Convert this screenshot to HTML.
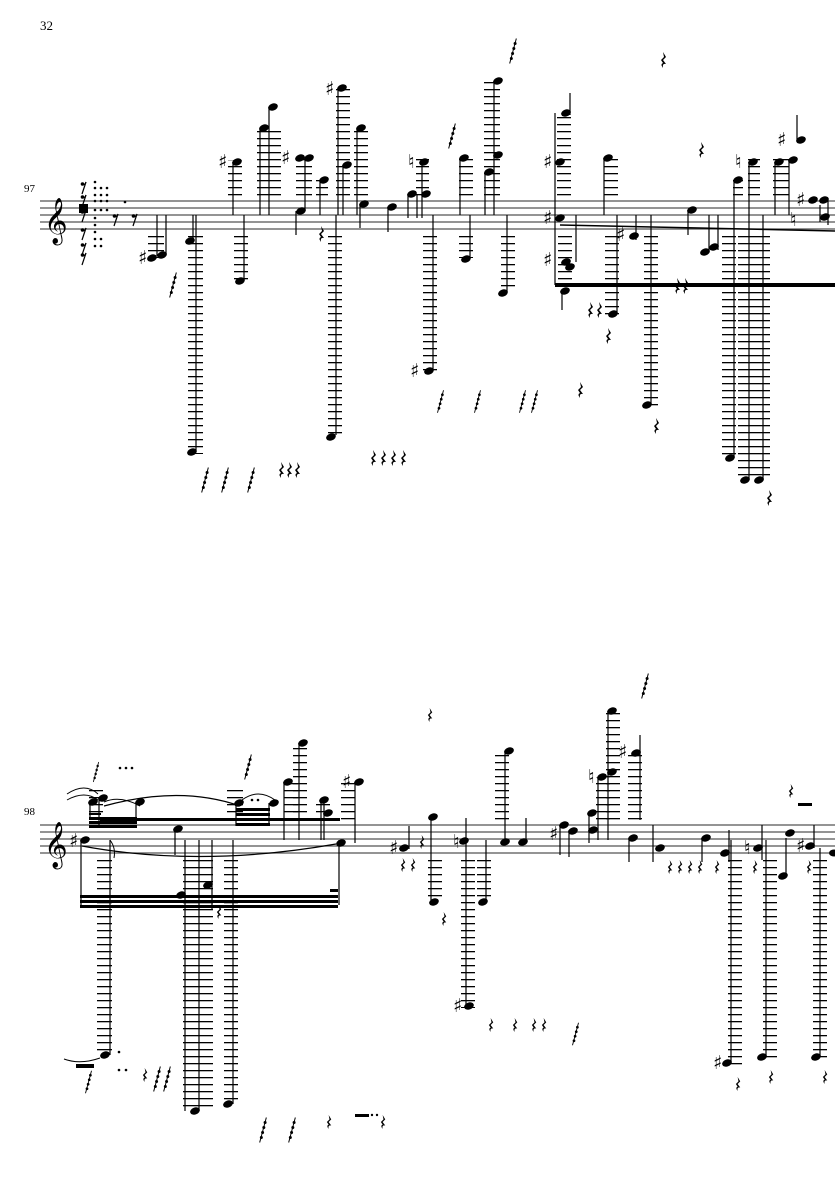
<!DOCTYPE html>
<html><head><meta charset="utf-8"><style>
html,body{margin:0;padding:0;background:#fff;}
svg{display:block}
</style></head><body>
<svg width="835" height="1181" viewBox="0 0 835 1181" xmlns="http://www.w3.org/2000/svg">
<defs>
<pattern id="L1" patternUnits="userSpaceOnUse" x="0" y="201" width="835" height="7"><rect x="0" y="0" width="835" height="1.3" fill="#000"/></pattern>
<pattern id="L2" patternUnits="userSpaceOnUse" x="0" y="825" width="835" height="7"><rect x="0" y="0" width="835" height="1.3" fill="#000"/></pattern>
<symbol id="r" viewBox="0 0 8 16" overflow="visible"><path d="M3 0 L6 5 L3 8 L6 12 Q2 11 3 16 Q0 12 3 11 L1 8 L4 5 Z" fill="#000"/></symbol>
<symbol id="g" viewBox="0 0 12 30" overflow="visible"><path d="M2 30 L10 0" stroke="#000" stroke-width="1.2"/><circle cx="4" cy="24" r="1.8"/><circle cx="5.5" cy="18" r="1.8"/><circle cx="7" cy="12" r="1.8"/><circle cx="8.5" cy="6" r="1.8"/></symbol>
<symbol id="f" viewBox="0 0 8 12" overflow="visible"><path d="M6 0 L2 12" stroke="#000" stroke-width="1.2"/><circle cx="2.5" cy="2" r="1.8"/><path d="M2.5 3 Q5 3 6 0" stroke="#000" fill="none"/></symbol>
</defs>
<g font-family="Liberation Serif, serif" fill="#000">
<text x="40" y="30" font-size="13">32</text>
<text x="24" y="192" font-size="11">97</text>
<text x="24" y="815" font-size="11">98</text>
</g>
<g stroke="#555" stroke-width="1.2">
<line x1="40" y1="201" x2="835" y2="201"/><line x1="40" y1="208" x2="835" y2="208"/><line x1="40" y1="215" x2="835" y2="215"/><line x1="40" y1="222" x2="835" y2="222"/><line x1="40" y1="229" x2="835" y2="229"/>
<line x1="40" y1="825" x2="835" y2="825"/><line x1="40" y1="832" x2="835" y2="832"/><line x1="40" y1="839" x2="835" y2="839"/><line x1="40" y1="846" x2="835" y2="846"/><line x1="40" y1="853" x2="835" y2="853"/>
</g>
<text x="44" y="234" font-family="DejaVu Sans, sans-serif" font-size="40">𝄞</text>
<text x="44" y="858" font-family="DejaVu Sans, sans-serif" font-size="40">𝄞</text>

<!-- opening rest/dot cluster 97 -->
<g>
<use href="#f" x="80" y="182" width="8" height="12"/><use href="#f" x="80" y="195" width="8" height="12"/><use href="#f" x="80" y="210" width="8" height="12"/><use href="#f" x="80" y="228" width="8" height="12"/><use href="#f" x="80" y="243" width="8" height="12"/><use href="#f" x="80" y="253" width="8" height="12"/>
<use href="#f" x="112" y="213" width="8" height="14"/><use href="#f" x="131" y="213" width="8" height="14"/>
</g>
<rect x="79" y="204" width="9" height="9" fill="#000"/>
<g fill="#000">
<circle cx="95" cy="182" r="1.3"/><circle cx="95" cy="188" r="1.3"/><circle cx="101" cy="188" r="1.3"/><circle cx="107" cy="188" r="1.3"/><circle cx="95" cy="195" r="1.3"/><circle cx="101" cy="195" r="1.3"/><circle cx="107" cy="195" r="1.3"/><circle cx="95" cy="201" r="1.3"/><circle cx="101" cy="201" r="1.3"/><circle cx="107" cy="201" r="1.3"/><circle cx="95" cy="210" r="1.3"/><circle cx="101" cy="210" r="1.3"/><circle cx="107" cy="210" r="1.3"/><circle cx="95" cy="218" r="1.3"/><circle cx="95" cy="225" r="1.3"/><circle cx="95" cy="232" r="1.3"/><circle cx="95" cy="239" r="1.3"/><circle cx="101" cy="239" r="1.3"/><circle cx="95" cy="246" r="1.3"/><circle cx="101" cy="246" r="1.3"/><circle cx="125" cy="202" r="1.3"/>
</g>

<g fill="url(#L1)">
<rect x="148" y="236" width="16" height="22"/>
<rect x="188" y="236" width="15" height="218"/>
<rect x="228" y="160" width="14" height="36"/>
<rect x="234" y="236" width="14" height="44"/>
<rect x="257" y="126" width="24" height="70"/>
<rect x="296" y="157" width="16" height="39"/>
<rect x="316" y="178" width="12" height="18"/>
<rect x="336" y="85" width="14" height="111"/>
<rect x="328" y="236" width="14" height="202"/>
<rect x="354" y="126" width="14" height="70"/>
<rect x="416" y="159" width="13" height="37"/>
<rect x="423" y="236" width="14" height="136"/>
<rect x="459" y="157" width="14" height="39"/>
<rect x="459" y="236" width="14" height="22"/>
<rect x="484" y="80" width="16" height="116"/>
<rect x="501" y="236" width="14" height="56"/>
<rect x="557" y="112" width="14" height="84"/>
<rect x="558" y="236" width="14" height="46"/>
<rect x="604" y="157" width="14" height="39"/>
<rect x="605" y="236" width="14" height="80"/>
<rect x="644" y="236" width="14" height="170"/>
<rect x="722" y="236" width="14" height="222"/>
<rect x="738" y="236" width="32" height="244"/>
<rect x="733" y="180" width="10" height="16"/>
<rect x="748" y="159" width="12" height="37"/>
<rect x="773" y="159" width="16" height="37"/>
</g>
<g stroke="#000" stroke-width="1.2">
<line x1="157" y1="215" x2="157" y2="256"/><line x1="166" y1="215" x2="166" y2="254"/>
<line x1="196" y1="215" x2="196" y2="450"/><line x1="193" y1="215" x2="193" y2="243"/>
<line x1="233" y1="162" x2="233" y2="215"/><line x1="244" y1="215" x2="244" y2="280"/>
<line x1="260" y1="128" x2="260" y2="215"/><line x1="269" y1="107" x2="269" y2="215"/>
<line x1="296" y1="211" x2="296" y2="235"/><line x1="305" y1="158" x2="305" y2="211"/>
<line x1="320" y1="180" x2="320" y2="215"/>
<line x1="338" y1="88" x2="338" y2="215"/><line x1="343" y1="165" x2="343" y2="215"/>
<line x1="336" y1="215" x2="336" y2="435"/>
<line x1="357" y1="128" x2="357" y2="215"/><line x1="360" y1="204" x2="360" y2="228"/>
<line x1="388" y1="207" x2="388" y2="232"/>
<line x1="408" y1="194" x2="408" y2="218"/><line x1="417" y1="194" x2="417" y2="218"/><line x1="422" y1="162" x2="422" y2="218"/>
<line x1="433" y1="215" x2="433" y2="370"/>
<line x1="460" y1="158" x2="460" y2="215"/><line x1="470" y1="215" x2="470" y2="258"/>
<line x1="485" y1="172" x2="485" y2="215"/><line x1="494" y1="81" x2="494" y2="215"/>
<line x1="507" y1="215" x2="507" y2="292"/>
<line x1="555" y1="113" x2="555" y2="285"/><line x1="570" y1="115" x2="570" y2="93"/>
<line x1="576" y1="215" x2="576" y2="262"/><line x1="604" y1="158" x2="604" y2="215"/>
<line x1="617" y1="215" x2="617" y2="313"/><line x1="636" y1="215" x2="636" y2="240"/>
<line x1="651" y1="215" x2="651" y2="405"/><line x1="688" y1="210" x2="688" y2="235"/>
<line x1="709" y1="215" x2="709" y2="250"/><line x1="718" y1="215" x2="718" y2="250"/>
<line x1="734" y1="180" x2="734" y2="458"/><line x1="749" y1="162" x2="749" y2="480"/>
<line x1="763" y1="215" x2="763" y2="480"/><line x1="775" y1="162" x2="775" y2="215"/>
<line x1="789" y1="160" x2="789" y2="215"/><line x1="797" y1="140" x2="797" y2="115"/>
<line x1="820" y1="205" x2="820" y2="222"/><line x1="828" y1="200" x2="828" y2="225"/>
<line x1="562" y1="290" x2="562" y2="310"/>
</g>
<rect x="555" y="283" width="280" height="4" fill="#000"/>
<path d="M560 225 L835 231" stroke="#000" stroke-width="1.5"/>
<g fill="#000">
<ellipse cx="152" cy="258" rx="5" ry="3.5" transform="rotate(-20 152 258)"/><ellipse cx="162" cy="255" rx="5" ry="3.5" transform="rotate(-20 162 255)"/>
<ellipse cx="190" cy="241" rx="5" ry="3.5" transform="rotate(-20 190 241)"/>
<ellipse cx="192" cy="452" rx="5" ry="3.5" transform="rotate(-20 192 452)"/>
<ellipse cx="237" cy="162" rx="5" ry="3.5" transform="rotate(-20 237 162)"/>
<ellipse cx="240" cy="281" rx="5" ry="3.5" transform="rotate(-20 240 281)"/>
<ellipse cx="264" cy="128" rx="5" ry="3.5" transform="rotate(-20 264 128)"/>
<ellipse cx="273" cy="107" rx="5" ry="3.5" transform="rotate(-20 273 107)"/>
<ellipse cx="300" cy="158" rx="5" ry="3.5" transform="rotate(-20 300 158)"/><ellipse cx="309" cy="158" rx="5" ry="3.5" transform="rotate(-20 309 158)"/>
<ellipse cx="301" cy="211" rx="5" ry="3.5" transform="rotate(-20 301 211)"/>
<ellipse cx="324" cy="180" rx="5" ry="3.5" transform="rotate(-20 324 180)"/>
<ellipse cx="342" cy="88" rx="5" ry="3.5" transform="rotate(-20 342 88)"/><ellipse cx="347" cy="165" rx="5" ry="3.5" transform="rotate(-20 347 165)"/>
<ellipse cx="331" cy="437" rx="5" ry="3.5" transform="rotate(-20 331 437)"/>
<ellipse cx="361" cy="128" rx="5" ry="3.5" transform="rotate(-20 361 128)"/><ellipse cx="364" cy="204" rx="5" ry="3.5" transform="rotate(-20 364 204)"/>
<ellipse cx="392" cy="207" rx="5" ry="3.5" transform="rotate(-20 392 207)"/>
<ellipse cx="412" cy="194" rx="5" ry="3.5" transform="rotate(-20 412 194)"/><ellipse cx="426" cy="194" rx="5" ry="3.5" transform="rotate(-20 426 194)"/><ellipse cx="424" cy="162" rx="5" ry="3.5" transform="rotate(-20 424 162)"/>
<ellipse cx="429" cy="371" rx="5" ry="3.5" transform="rotate(-20 429 371)"/>
<ellipse cx="464" cy="158" rx="5" ry="3.5" transform="rotate(-20 464 158)"/><ellipse cx="466" cy="259" rx="5" ry="3.5" transform="rotate(-20 466 259)"/>
<ellipse cx="489" cy="172" rx="5" ry="3.5" transform="rotate(-20 489 172)"/><ellipse cx="498" cy="81" rx="5" ry="3.5" transform="rotate(-20 498 81)"/><ellipse cx="498" cy="155" rx="5" ry="3.5" transform="rotate(-20 498 155)"/>
<ellipse cx="503" cy="293" rx="5" ry="3.5" transform="rotate(-20 503 293)"/>
<ellipse cx="566" cy="113" rx="5" ry="3.5" transform="rotate(-20 566 113)"/><ellipse cx="560" cy="162" rx="5" ry="3.5" transform="rotate(-20 560 162)"/>
<ellipse cx="560" cy="218" rx="5" ry="3.5" transform="rotate(-20 560 218)"/><ellipse cx="566" cy="262" rx="5" ry="3.5" transform="rotate(-20 566 262)"/><ellipse cx="570" cy="267" rx="5" ry="3.5" transform="rotate(-20 570 267)"/>
<ellipse cx="565" cy="291" rx="5" ry="3.5" transform="rotate(-20 565 291)"/>
<ellipse cx="608" cy="158" rx="5" ry="3.5" transform="rotate(-20 608 158)"/><ellipse cx="613" cy="314" rx="5" ry="3.5" transform="rotate(-20 613 314)"/>
<ellipse cx="634" cy="236" rx="5" ry="3.5" transform="rotate(-20 634 236)"/>
<ellipse cx="647" cy="405" rx="5" ry="3.5" transform="rotate(-20 647 405)"/>
<ellipse cx="692" cy="210" rx="5" ry="3.5" transform="rotate(-20 692 210)"/>
<ellipse cx="705" cy="252" rx="5" ry="3.5" transform="rotate(-20 705 252)"/><ellipse cx="714" cy="247" rx="5" ry="3.5" transform="rotate(-20 714 247)"/>
<ellipse cx="730" cy="458" rx="5" ry="3.5" transform="rotate(-20 730 458)"/><ellipse cx="745" cy="480" rx="5" ry="3.5" transform="rotate(-20 745 480)"/><ellipse cx="759" cy="480" rx="5" ry="3.5" transform="rotate(-20 759 480)"/>
<ellipse cx="738" cy="180" rx="5" ry="3.5" transform="rotate(-20 738 180)"/><ellipse cx="753" cy="162" rx="5" ry="3.5" transform="rotate(-20 753 162)"/>
<ellipse cx="779" cy="162" rx="5" ry="3.5" transform="rotate(-20 779 162)"/><ellipse cx="793" cy="160" rx="5" ry="3.5" transform="rotate(-20 793 160)"/><ellipse cx="801" cy="140" rx="5" ry="3.5" transform="rotate(-20 801 140)"/>
<ellipse cx="813" cy="200" rx="5" ry="3.5" transform="rotate(-20 813 200)"/><ellipse cx="824" cy="200" rx="5" ry="3.5" transform="rotate(-20 824 200)"/><ellipse cx="825" cy="217" rx="5" ry="3.5" transform="rotate(-20 825 217)"/>
</g>
<g font-family="DejaVu Sans, sans-serif" font-size="19" fill="#000">
<text x="138" y="264">♯</text><text x="218" y="168">♯</text><text x="281" y="164">♯</text><text x="325" y="95">♯</text><text x="408" y="168">♮</text><text x="410" y="377">♯</text><text x="543" y="168">♯</text><text x="543" y="224">♯</text><text x="543" y="266">♯</text><text x="616" y="241">♯</text><text x="735" y="168">♮</text><text x="777" y="146">♯</text><text x="796" y="206">♯</text><text x="790" y="226">♮</text>
</g>
<g>
<use href="#g" x="168" y="272" width="10" height="26"/>
<use href="#g" x="200" y="462" width="10" height="36"/><use href="#g" x="220" y="462" width="10" height="36"/><use href="#g" x="246" y="462" width="10" height="36"/>
<use href="#g" x="447" y="120" width="10" height="32"/><use href="#g" x="508" y="35" width="10" height="32"/>
<use href="#g" x="436" y="385" width="9" height="33"/><use href="#g" x="473" y="385" width="9" height="33"/><use href="#g" x="518" y="385" width="9" height="33"/><use href="#g" x="530" y="385" width="9" height="33"/>
<use href="#r" x="278" y="462" width="8" height="16"/><use href="#r" x="286" y="462" width="8" height="16"/><use href="#r" x="294" y="462" width="8" height="16"/>
<use href="#r" x="370" y="450" width="8" height="16"/><use href="#r" x="380" y="450" width="8" height="16"/><use href="#r" x="390" y="450" width="8" height="16"/><use href="#r" x="400" y="450" width="8" height="16"/>
<use href="#r" x="318" y="226" width="8" height="16"/><use href="#r" x="577" y="382" width="8" height="16"/>
<use href="#r" x="660" y="52" width="8" height="16"/><use href="#r" x="698" y="142" width="8" height="16"/>
<use href="#r" x="587" y="302" width="8" height="16"/><use href="#r" x="596" y="302" width="8" height="16"/><use href="#r" x="605" y="328" width="8" height="16"/>
<use href="#r" x="674" y="278" width="8" height="16"/><use href="#r" x="682" y="278" width="8" height="16"/>
<use href="#r" x="653" y="418" width="8" height="16"/><use href="#r" x="766" y="490" width="8" height="16"/>
</g>

<g fill="url(#L2)">
<rect x="97" y="860" width="15" height="196"/>
<rect x="89" y="790" width="14" height="34"/><rect x="227" y="790" width="16" height="34"/>
<rect x="183" y="860" width="30" height="252"/>
<rect x="224" y="860" width="14" height="245"/>
<rect x="284" y="779" width="14" height="46"/>
<rect x="293" y="743" width="14" height="82"/>
<rect x="316" y="799" width="14" height="26"/>
<rect x="341" y="781" width="14" height="44"/>
<rect x="428" y="860" width="14" height="42"/>
<rect x="461" y="860" width="14" height="148"/>
<rect x="477" y="860" width="14" height="42"/>
<rect x="495" y="751" width="14" height="74"/>
<rect x="596" y="777" width="14" height="48"/>
<rect x="606" y="711" width="14" height="114"/>
<rect x="628" y="751" width="14" height="72"/>
<rect x="728" y="860" width="14" height="205"/>
<rect x="763" y="860" width="14" height="198"/>
<rect x="813" y="860" width="14" height="198"/>
</g>
<rect x="80" y="895" width="258" height="3" fill="#000"/><rect x="80" y="900" width="258" height="3" fill="#000"/><rect x="80" y="905" width="258" height="3" fill="#000"/>
<rect x="330" y="889" width="8" height="3" fill="#000"/>
<rect x="89" y="817" width="48" height="3" fill="#000"/><rect x="89" y="821" width="48" height="3" fill="#000"/><rect x="89" y="825" width="48" height="3" fill="#000"/><rect x="89" y="813" width="12" height="2" fill="#000"/>
<rect x="100" y="818" width="240" height="3" fill="#000"/>
<rect x="236" y="808" width="34" height="3" fill="#000"/><rect x="236" y="813" width="34" height="3" fill="#000"/><rect x="236" y="818" width="34" height="3" fill="#000"/><rect x="236" y="823" width="34" height="3" fill="#000"/>
<g stroke="#000" stroke-width="1.2">
<line x1="81" y1="840" x2="81" y2="908"/><line x1="110" y1="840" x2="110" y2="1055"/>
<line x1="90" y1="804" x2="90" y2="820"/><line x1="99" y1="800" x2="99" y2="826"/><line x1="136" y1="803" x2="136" y2="820"/>
<line x1="175" y1="829" x2="175" y2="855"/><line x1="185" y1="840" x2="185" y2="1111"/><line x1="199" y1="840" x2="199" y2="1111"/><line x1="212" y1="840" x2="212" y2="910"/><line x1="233" y1="840" x2="233" y2="1104"/>
<line x1="236" y1="803" x2="236" y2="826"/><line x1="269" y1="803" x2="269" y2="826"/>
<line x1="284" y1="782" x2="284" y2="840"/><line x1="299" y1="743" x2="299" y2="840"/><line x1="321" y1="800" x2="321" y2="840"/><line x1="324" y1="800" x2="324" y2="840"/><line x1="339" y1="840" x2="339" y2="905"/>
<line x1="355" y1="782" x2="355" y2="843"/>
<line x1="409" y1="826" x2="409" y2="849"/><line x1="431" y1="817" x2="431" y2="900"/>
<line x1="466" y1="818" x2="466" y2="1006"/><line x1="486" y1="840" x2="486" y2="902"/>
<line x1="505" y1="751" x2="505" y2="843"/><line x1="526" y1="840" x2="526" y2="818"/>
<line x1="560" y1="825" x2="560" y2="855"/><line x1="569" y1="830" x2="569" y2="857"/><line x1="589" y1="813" x2="589" y2="843"/>
<line x1="598" y1="777" x2="598" y2="840"/><line x1="608" y1="711" x2="608" y2="840"/>
<line x1="640" y1="735" x2="640" y2="820"/>
<line x1="629" y1="838" x2="629" y2="862"/><line x1="653" y1="825" x2="653" y2="862"/>
<line x1="702" y1="838" x2="702" y2="862"/><line x1="729" y1="830" x2="729" y2="862"/>
<line x1="731" y1="840" x2="731" y2="1063"/><line x1="762" y1="825" x2="762" y2="860"/><line x1="766" y1="840" x2="766" y2="1057"/>
<line x1="786" y1="838" x2="786" y2="875"/><line x1="814" y1="825" x2="814" y2="848"/><line x1="820" y1="848" x2="820" y2="1057"/>
</g>
<path d="M82 846 Q200 868 336 844" stroke="#000" stroke-width="1.2" fill="none"/>
<path d="M104 806 Q180 785 240 806" stroke="#000" stroke-width="1.2" fill="none"/>
<path d="M67 794 Q85 782 98 794 M67 800 Q85 790 98 800 M242 800 Q258 788 275 800 M104 802 Q120 795 140 806" stroke="#000" stroke-width="1" fill="none"/>
<path d="M64 1059 Q80 1065 100 1058" stroke="#000" stroke-width="1" fill="none"/>
<path d="M110 840 q6 8 4 18" stroke="#000" stroke-width="1" fill="none"/>
<g fill="#000">
<ellipse cx="85" cy="840" rx="5" ry="3.5" transform="rotate(-20 85 840)"/>
<ellipse cx="93" cy="802" rx="5" ry="3.5" transform="rotate(-20 93 802)"/><ellipse cx="103" cy="798" rx="5" ry="3.5" transform="rotate(-20 103 798)"/><ellipse cx="140" cy="802" rx="5" ry="3.5" transform="rotate(-20 140 802)"/>
<ellipse cx="105" cy="1055" rx="5" ry="3.5" transform="rotate(-20 105 1055)"/>
<ellipse cx="178" cy="829" rx="5" ry="3.5" transform="rotate(-20 178 829)"/><ellipse cx="181" cy="895" rx="5" ry="3.5" transform="rotate(-20 181 895)"/><ellipse cx="208" cy="885" rx="5" ry="3.5" transform="rotate(-20 208 885)"/>
<ellipse cx="195" cy="1111" rx="5" ry="3.5" transform="rotate(-20 195 1111)"/><ellipse cx="228" cy="1104" rx="5" ry="3.5" transform="rotate(-20 228 1104)"/>
<ellipse cx="239" cy="803" rx="5" ry="3.5" transform="rotate(-20 239 803)"/><ellipse cx="274" cy="803" rx="5" ry="3.5" transform="rotate(-20 274 803)"/>
<ellipse cx="288" cy="782" rx="5" ry="3.5" transform="rotate(-20 288 782)"/><ellipse cx="303" cy="743" rx="5" ry="3.5" transform="rotate(-20 303 743)"/>
<ellipse cx="324" cy="800" rx="5" ry="3.5" transform="rotate(-20 324 800)"/><ellipse cx="328" cy="813" rx="5" ry="3.5" transform="rotate(-20 328 813)"/>
<ellipse cx="341" cy="843" rx="5" ry="3.5" transform="rotate(-20 341 843)"/>
<ellipse cx="359" cy="782" rx="5" ry="3.5" transform="rotate(-20 359 782)"/>
<ellipse cx="404" cy="848" rx="5" ry="3.5" transform="rotate(-20 404 848)"/><ellipse cx="433" cy="817" rx="5" ry="3.5" transform="rotate(-20 433 817)"/><ellipse cx="434" cy="902" rx="5" ry="3.5" transform="rotate(-20 434 902)"/>
<ellipse cx="464" cy="841" rx="5" ry="3.5" transform="rotate(-20 464 841)"/><ellipse cx="469" cy="1006" rx="5" ry="3.5" transform="rotate(-20 469 1006)"/><ellipse cx="483" cy="902" rx="5" ry="3.5" transform="rotate(-20 483 902)"/>
<ellipse cx="509" cy="751" rx="5" ry="3.5" transform="rotate(-20 509 751)"/><ellipse cx="505" cy="842" rx="5" ry="3.5" transform="rotate(-20 505 842)"/><ellipse cx="523" cy="842" rx="5" ry="3.5" transform="rotate(-20 523 842)"/>
<ellipse cx="564" cy="825" rx="5" ry="3.5" transform="rotate(-20 564 825)"/><ellipse cx="573" cy="831" rx="5" ry="3.5" transform="rotate(-20 573 831)"/>
<ellipse cx="592" cy="813" rx="5" ry="3.5" transform="rotate(-20 592 813)"/><ellipse cx="593" cy="830" rx="5" ry="3.5" transform="rotate(-20 593 830)"/>
<ellipse cx="602" cy="777" rx="5" ry="3.5" transform="rotate(-20 602 777)"/><ellipse cx="612" cy="772" rx="5" ry="3.5" transform="rotate(-20 612 772)"/><ellipse cx="612" cy="711" rx="5" ry="3.5" transform="rotate(-20 612 711)"/>
<ellipse cx="636" cy="753" rx="5" ry="3.5" transform="rotate(-20 636 753)"/>
<ellipse cx="633" cy="838" rx="5" ry="3.5" transform="rotate(-20 633 838)"/><ellipse cx="660" cy="848" rx="5" ry="3.5" transform="rotate(-20 660 848)"/>
<ellipse cx="706" cy="838" rx="5" ry="3.5" transform="rotate(-20 706 838)"/><ellipse cx="725" cy="853" rx="5" ry="3.5" transform="rotate(-20 725 853)"/>
<ellipse cx="727" cy="1063" rx="5" ry="3.5" transform="rotate(-20 727 1063)"/><ellipse cx="758" cy="848" rx="5" ry="3.5" transform="rotate(-20 758 848)"/><ellipse cx="762" cy="1057" rx="5" ry="3.5" transform="rotate(-20 762 1057)"/>
<ellipse cx="783" cy="876" rx="5" ry="3.5" transform="rotate(-20 783 876)"/><ellipse cx="790" cy="833" rx="5" ry="3.5" transform="rotate(-20 790 833)"/>
<ellipse cx="810" cy="846" rx="5" ry="3.5" transform="rotate(-20 810 846)"/><ellipse cx="816" cy="1057" rx="5" ry="3.5" transform="rotate(-20 816 1057)"/>
<ellipse cx="834" cy="853" rx="5" ry="3.5"/>
<circle cx="120" cy="768" r="1.3"/><circle cx="126" cy="768" r="1.3"/><circle cx="132" cy="768" r="1.3"/>
<circle cx="252" cy="800" r="1.3"/><circle cx="258" cy="800" r="1.3"/>
<circle cx="119" cy="1052" r="1.3"/><circle cx="119" cy="1070" r="1.3"/><circle cx="126" cy="1070" r="1.3"/>
<rect x="76" y="1064" width="18" height="4"/>
<rect x="355" y="1114" width="14" height="3"/><circle cx="372" cy="1115" r="1.2"/><circle cx="377" cy="1115" r="1.2"/>
<rect x="798" y="803" width="14" height="3"/>
</g>
<g font-family="DejaVu Sans, sans-serif" font-size="19" fill="#000">
<text x="69" y="847">♯</text><text x="342" y="788">♯</text><text x="389" y="854">♯</text><text x="453" y="1012">♯</text><text x="453" y="848">♮</text>
<text x="549" y="840">♯</text><text x="588" y="783">♮</text><text x="618" y="758">♯</text><text x="713" y="1069">♯</text><text x="744" y="854">♮</text><text x="796" y="852">♯</text>
</g>
<g>
<use href="#g" x="84" y="1068" width="9" height="28"/><use href="#g" x="152" y="1065" width="10" height="28"/><use href="#g" x="162" y="1065" width="10" height="28"/>
<use href="#g" x="258" y="1115" width="10" height="30"/><use href="#g" x="287" y="1115" width="10" height="30"/>
<use href="#g" x="92" y="758" width="8" height="28"/><use href="#g" x="243" y="750" width="10" height="34"/><use href="#g" x="640" y="670" width="10" height="32"/><use href="#g" x="571" y="1018" width="9" height="32"/>
<use href="#r" x="142" y="1068" width="7" height="14"/><use href="#r" x="326" y="1115" width="7" height="14"/><use href="#r" x="380" y="1115" width="7" height="14"/>
<use href="#r" x="216" y="905" width="7" height="14"/><use href="#r" x="427" y="708" width="7" height="14"/><use href="#r" x="419" y="835" width="7" height="14"/>
<use href="#r" x="400" y="858" width="7" height="14"/><use href="#r" x="410" y="858" width="7" height="14"/><use href="#r" x="441" y="912" width="7" height="14"/>
<use href="#r" x="488" y="1018" width="7" height="14"/><use href="#r" x="512" y="1018" width="7" height="14"/><use href="#r" x="531" y="1018" width="7" height="14"/><use href="#r" x="541" y="1018" width="7" height="14"/>
<use href="#r" x="667" y="860" width="7" height="14"/><use href="#r" x="677" y="860" width="7" height="14"/><use href="#r" x="687" y="860" width="7" height="14"/><use href="#r" x="697" y="860" width="7" height="14"/><use href="#r" x="714" y="860" width="7" height="14"/>
<use href="#r" x="752" y="860" width="7" height="14"/><use href="#r" x="806" y="860" width="7" height="14"/><use href="#r" x="788" y="784" width="7" height="14"/>
<use href="#r" x="735" y="1077" width="7" height="14"/><use href="#r" x="768" y="1070" width="7" height="14"/><use href="#r" x="822" y="1070" width="7" height="14"/>
</g>
</svg>
</body></html>
